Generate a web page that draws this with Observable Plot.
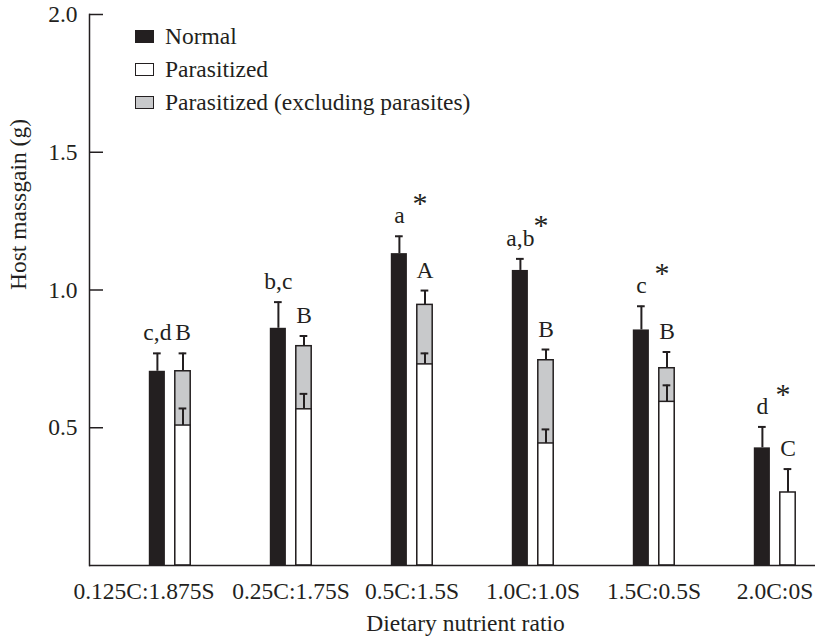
<!DOCTYPE html>
<html><head><meta charset="utf-8">
<script src="https://cdn.jsdelivr.net/npm/d3@7"></script>
<script src="https://cdn.jsdelivr.net/npm/@observablehq/plot@0.6"></script>
<style>
body{margin:0;background:#fff;font-family:"Liberation Serif",serif;}
#wrap{position:relative;width:815px;height:640px;}
.legend{position:absolute;left:135px;top:20px;font-size:23.5px;color:#231f20;font-family:"Liberation Serif",serif;}
.row{display:flex;align-items:center;height:33px;white-space:nowrap;}
.sw{width:17px;height:11px;border:1px solid #231f20;margin-right:11px;box-sizing:content-box;}
</style></head><body><div id="wrap"></div>
<script>
// categories
const ratios = ["0.125C:1.875S", "0.25C:1.75S", "0.5C:1.5S", "1.0C:1.0S", "1.5C:0.5S", "2.0C:0S"];
// series values (g)
const normalMean = [0.705, 0.861, 1.132, 1.071, 0.855, 0.427];
const normalSE   = [0.065, 0.095, 0.063, 0.042, 0.086, 0.076];
const exclMean   = [0.705, 0.796, 0.946, 0.745, 0.716, null];
const exclSE     = [0.065, 0.037, 0.052, 0.039, 0.059, null];
const parasMean  = [0.508, 0.567, 0.730, 0.443, 0.594, 0.265];
const parasSE    = [0.062, 0.056, 0.040, 0.051, 0.060, 0.085];
// significance letters
const normalLetters = ["c,d", "b,c", "a", "a,b", "c", "d"];
const parasLetters  = ["B", "B", "A", "B", "B", "C"];
const asterisk      = [false, false, true, true, true, true];
// legend & ticks
const seriesNames = ["Normal", "Parasitized", "Parasitized (excluding parasites)"];
const yTicks = [0.5, 1.0, 1.5, 2.0];

const dark = "#231f20", gray = "#c8c9cb";
const FS = 23.5;
const rows = ratios.map((r, i) => ({
  ratio: r, normal: normalMean[i], normalSE: normalSE[i],
  excl: exclMean[i], exclSE: exclSE[i], paras: parasMean[i], parasSE: parasSE[i],
  nl: normalLetters[i], pl: parasLetters[i], star: asterisk[i]
}));
const exclRows = rows.filter(d => d.excl != null);

const nIn = {insetLeft: 39.8, insetRight: 65.1};
const pIn = {insetLeft: 65.8, insetRight: 39.8};
const nCap = {insetLeft: 44, insetRight: 69.3};
const pCap = {insetLeft: 69.6, insetRight: 43.7};
const nDx = -12.6, pDx = 13;

const chart = Plot.plot({
  width: 815, height: 640,
  marginLeft: 89, marginRight: 0, marginTop: 14, marginBottom: 75,
  style: {fontFamily: "Liberation Serif, serif", fontSize: FS + "px", color: dark, background: "#fff"},
  x: {type: "band", domain: ratios, range: [107.5, 837.3], padding: 0},
  y: {domain: [0, 2]},
  marks: [
    // bars
    Plot.barY(rows, {x: "ratio", y: "normal", fill: dark, ...nIn}),
    Plot.barY(exclRows, {x: "ratio", y: "excl", fill: gray, stroke: dark, strokeWidth: 1.5, ...pIn}),
    Plot.barY(rows, {x: "ratio", y: "paras", fill: "white", stroke: dark, strokeWidth: 1.5, ...pIn}),
    // error bars
    Plot.ruleX(rows, {x: "ratio", y1: "normal", y2: d => d.normal + d.normalSE, dx: nDx, stroke: dark, strokeWidth: 2}),
    Plot.tickY(rows, {x: "ratio", y: d => d.normal + d.normalSE, stroke: dark, strokeWidth: 2, ...nCap}),
    Plot.ruleX(exclRows, {x: "ratio", y1: "excl", y2: d => d.excl + d.exclSE, dx: pDx, stroke: dark, strokeWidth: 2}),
    Plot.tickY(exclRows, {x: "ratio", y: d => d.excl + d.exclSE, stroke: dark, strokeWidth: 2, ...pCap}),
    Plot.ruleX(rows, {x: "ratio", y1: "paras", y2: d => d.paras + d.parasSE, dx: pDx, stroke: dark, strokeWidth: 2}),
    Plot.tickY(rows, {x: "ratio", y: d => d.paras + d.parasSE, stroke: dark, strokeWidth: 2, ...pCap}),
    // letters
    Plot.text(rows, {x: "ratio", y: d => d.normal + d.normalSE, text: "nl", dx: nDx, dy: -20.5, fontSize: FS, fill: dark}),
    Plot.text(rows, {x: "ratio", y: d => (d.excl ?? d.paras) + (d.excl != null ? d.exclSE : d.parasSE), text: "pl", dx: pDx, dy: -20.5, fontSize: FS, fill: dark}),
    Plot.text(rows.filter(d => d.star), {x: "ratio", y: d => d.normal + d.normalSE, text: () => "*", dx: 8, dy: -33, fontSize: 30, fill: dark}),
    // axes
    Plot.ruleY([0], {stroke: dark, strokeWidth: 1.5}),
    Plot.frame({anchor: "left", stroke: dark, strokeWidth: 1.5}),
    Plot.axisY({ticks: yTicks, tickSize: 14, dx: 14, tickFormat: () => "", label: null, stroke: dark, strokeWidth: 1.5}),
    Plot.axisY({ticks: yTicks, tickSize: 0, tickPadding: 12, tickFormat: d3.format(".1f"), label: null, fontSize: FS, fill: dark}),
    Plot.axisX(ratios.slice(0, 1), {tickSize: 0, tickPadding: 17, dx: -26, label: null, fontSize: FS, fill: dark}),
    Plot.axisX(ratios.slice(1), {tickSize: 0, tickPadding: 17, label: null, fontSize: FS, fill: dark}),
    Plot.text(["Dietary nutrient ratio"], {frameAnchor: "bottom", dy: 65, dx: 13, fontSize: FS, fill: dark}),
    Plot.text(["Host massgain (g)"], {frameAnchor: "left", dx: -71, rotate: -90, fontSize: FS, fill: dark})
  ]
});

const wrap = document.getElementById("wrap");
wrap.appendChild(chart);
const legend = document.createElement("div");
legend.className = "legend";
const swFill = [dark, "#ffffff", gray];
seriesNames.forEach((name, i) => {
  const row = document.createElement("div");
  row.className = "row";
  const sw = document.createElement("span");
  sw.className = "sw";
  sw.style.background = swFill[i];
  const t = document.createElement("span");
  t.textContent = name;
  row.appendChild(sw); row.appendChild(t);
  legend.appendChild(row);
});
wrap.appendChild(legend);
</script>
</body></html>
